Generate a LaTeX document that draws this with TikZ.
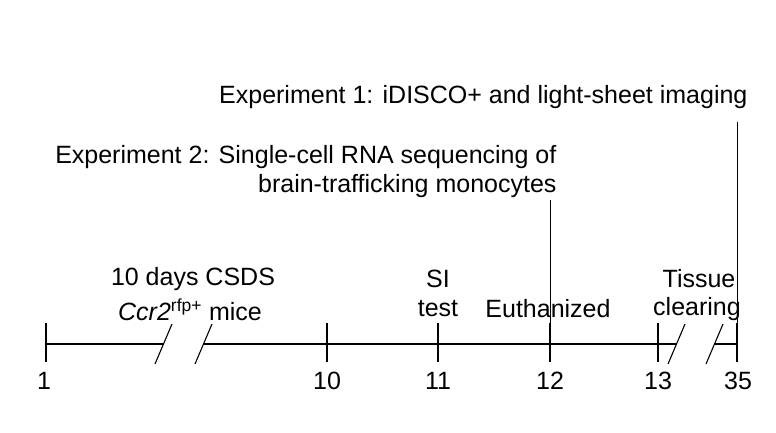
\documentclass[tikz,border=0pt]{standalone}
\usepackage{fontspec}
\setmainfont{Liberation Sans}
\begin{document}
\begin{tikzpicture}[x=1pt,y=-1pt,line width=1.1pt,
  lbl/.style={font=\fontsize{25}{30}\selectfont,inner sep=0pt}]
\useasboundingbox (0,0) rectangle (776,433);
% ticks
\foreach \n/\x in {t1/46,t10/327,t11/438,t12/550,t13/658,t35/737}{
  \coordinate (\n a) at (\x,323); \coordinate (\n b) at (\x,362); \coordinate (\n) at (\x,344);
  \draw (\n a) -- (\n b);}
\coordinate (b1) at (164,344); \coordinate (b2) at (204,344);
\coordinate (b3) at (676,344); \coordinate (b4) at (714,344);
\draw (t1) -- (b1); \draw (b2) -- (t10) -- (t13) -- (b3); \draw (b4) -- (t35);
\draw (155,364) -- (172,324);
\draw (195,364) -- (212,324);
\draw (668,364) -- (685,324);
\draw (706,364) -- (723,324);
% numbers
\node[lbl] (n1) at (44,381) {1};
\node[lbl] (n10) at (327,381) {10};
\node[lbl] (n11) at (438,381) {11};
\node[lbl] (n12) at (550,381) {12};
\node[lbl] (n13) at (658,381) {13};
\node[lbl] (n35) at (738,381) {35};
% labels
\node[lbl] (csds) at (193,279) {10 days CSDS};
\node[lbl] (ccr) at (190,310) {\textit{Ccr2}\textsuperscript{rfp+} mice};
\node[lbl] (si) at (438,279) {SI};
\node[lbl] (test) at (438,309) {test};
\node[lbl] (eu) at (548,309) {Euthanized};
\node[lbl] (tis) at (699,279) {Tissue};
\node[lbl] (cl) at (697,309) {clearing};
\node[lbl,anchor=east] (e1) at (748,97) {Experiment 1: iDISCO+ and light-sheet imaging};
\node[lbl,anchor=east] (e2a) at (557,157) {Experiment 2: Single-cell RNA sequencing of};
\node[lbl,anchor=east] (e2b) at (557,186) {brain-trafficking monocytes};
\coordinate (v1) at (550,200); \coordinate (v2) at (737,122);
\draw[line width=0.8pt] (t12) -- (v1);
\draw[line width=0.8pt] (t35) -- (v2);
\end{tikzpicture}
\end{document}
